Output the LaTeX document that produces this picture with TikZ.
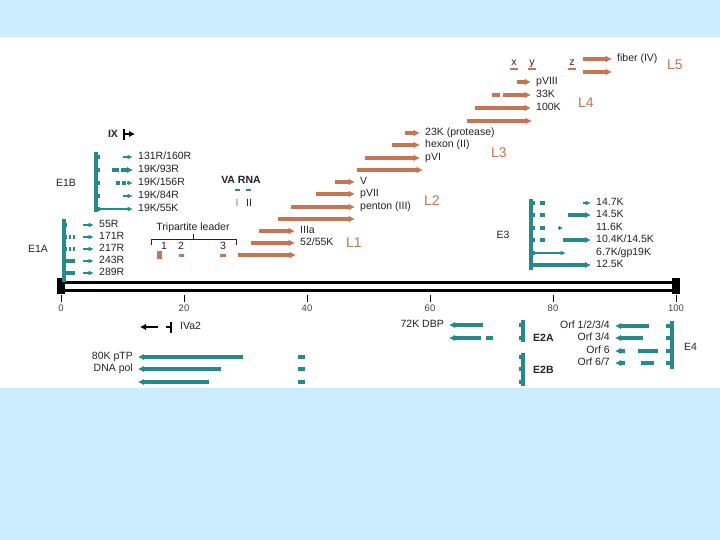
\documentclass[tikz,border=0pt]{standalone}
\usepackage{fontspec}
\setmainfont{Liberation Sans}
\usepackage{xcolor}
\usetikzlibrary{arrows.meta, positioning}
\definecolor{bgblue}{RGB}{204,236,255}
\definecolor{eteal}{RGB}{38,138,138}
\definecolor{lrust}{RGB}{198,116,82}
\definecolor{ltext}{RGB}{35,35,35}

\begin{document}
\begin{tikzpicture}[x=1pt, y=-1pt,
    lbl/.style={anchor=west, inner sep=1pt, text height=7.5pt, text depth=2pt, font=\fontsize{10.5}{11}\selectfont, text=ltext},
    rlbl/.style={lbl, anchor=east},
    grp/.style={inner sep=1pt, font=\fontsize{10.5}{11}\selectfont, text=ltext},
    grpb/.style={grp, font=\fontsize{10.5}{11}\selectfont\bfseries},
    tick/.style={inner sep=1pt, font=\fontsize{9.5}{10}\selectfont, text=ltext!85},
    lname/.style={anchor=west, inner sep=0pt, font=\fontsize{14}{14}\selectfont, text=lrust},
    late/.style={draw=lrust, line width=3.2pt, -{Latex[length=6.5pt,width=7pt]}},
    lseg/.style={draw=lrust, line width=3.2pt},
    early/.style={draw=eteal, line width=3.2pt, -{Latex[length=6pt,width=6.5pt]}},
    earlythin/.style={draw=eteal, line width=1.6pt, -{Latex[length=5.5pt,width=5pt]}},
    seg/.style={draw=eteal, line width=3.2pt},
    tolbl/.style={shorten >=4pt},
    endblk/.style={fill=black, rectangle, minimum size=7.5pt, inner sep=0pt},
    genome/.style={draw=black, line width=3pt},
    ]

    % background and white panel
    \fill[bgblue] (0,0) rectangle (720,540);
    \fill[white] (0,37) rectangle (720,388);

    % genome (both strands)
    \node[endblk] (g1) at (61,282) {};
    \node[endblk] (g2) at (676,282) {};
    \node[endblk] (g3) at (61,290) {};
    \node[endblk] (g4) at (676,290) {};
    \draw[genome] (g1) -- (g2);
    \draw[genome] (g3) -- (g4);

    % map units
    \foreach \v in {0,20,...,100} {
        \draw[black, line width=1pt] ({61+6.15*\v},295) -- ({61+6.15*\v},302);
        \node[tick] (t\v) at ({61+6.15*\v},308) {\v};
    }

    % L5
    \foreach \n/\x/\t in {ux/514/x, uy/532/y, uz/572/z} {
        \node[grp, text height=6pt, text depth=2pt] (\n) at (\x,64) {\t};
        \draw[lrust, line width=1.4pt] (\n.south west) -- (\n.south east);
    }
    \node[lbl] (fib) at (616,59) {fiber (IV)};
    \draw[late, tolbl] (583,59) -- (fib.west);
    \draw[late] (583,72) -- (612,72);
    \node[lname] (l5) at (667,65) {L5};

    % L4
    \node[lbl] (p8) at (535,82) {pVIII};
    \draw[late, tolbl] (517,82) -- (p8.west);
    \node[lbl] (k33) at (535,95) {33K};
    \draw[lseg] (492,95) -- (500,95);
    \draw[late, tolbl] (503,95) -- (k33.west);
    \node[lbl] (k100) at (535,108) {100K};
    \draw[late, tolbl] (475,108) -- (k100.west);
    \draw[late] (467,121) -- (532,121);
    \node[lname] (l4) at (578,103) {L4};

    % L3
    \node[lbl] (prot) at (424,133) {23K (protease)};
    \draw[late, tolbl] (405,133) -- (prot.west);
    \node[lbl] (hex) at (424,145) {hexon (II)};
    \draw[late, tolbl] (392,145) -- (hex.west);
    \node[lbl] (p6) at (424,158) {pVI};
    \draw[late, tolbl] (365,158) -- (p6.west);
    \draw[late] (357,170) -- (423,170);
    \node[lname] (l3) at (491,153) {L3};

    % L2
    \node[lbl] (pv) at (359,182) {V};
    \draw[late, tolbl] (335,182) -- (pv.west);
    \node[lbl] (p7) at (359,194) {pVII};
    \draw[late, tolbl] (316,194) -- (p7.west);
    \node[lbl] (pent) at (359,207) {penton (III)};
    \draw[late, tolbl] (291,207) -- (pent.west);
    \draw[late] (278,219) -- (355,219);
    \node[lname] (l2) at (424,201) {L2};

    % L1
    \node[lbl] (i3a) at (299,231) {IIIa};
    \draw[late, tolbl] (259,231) -- (i3a.west);
    \node[lbl] (k52) at (299,243) {52/55K};
    \draw[late, tolbl] (251,243) -- (k52.west);
    \draw[late] (238,255) -- (296,255);
    \node[lname] (l1) at (346,243) {L1};

    % tripartite leader
    \node[grp] (tpl) at (193,228) {Tripartite leader};
    \draw[ltext, line width=0.9pt] (151,245) -- (151,239) -- (236,239) -- (236,245);
    \draw[ltext, line width=0.9pt] (193,239) -- (tpl.south);
    \node[grp] (n1) at (164,246) {1};
    \node[grp] (n2) at (181,246) {2};
    \node[grp] (n3) at (223,246) {3};
    \fill[lrust] (157,251) rectangle (162,259);
    \fill[lrust] (179,254) rectangle (184,257);
    \fill[lrust] (220,254) rectangle (226,257);

    % VA RNA
    \node[grpb] (va) at (241,180) {VA RNA};
    \draw[eteal, line width=2.4pt] (235,190) -- (240,190);
    \draw[eteal, line width=2.4pt] (246,190) -- (251,190);
    \node[grp, text=gray] (va1) at (237,203) {I};
    \node[grp] (va2) at (249,203) {II};

    % IX
    \node[grpb] (ix) at (113,134) {IX};
    \draw[black, line width=1.8pt] (124,129) -- (124,140);
    \draw[black, line width=1.8pt, -{Latex[length=6pt,width=6.5pt]}] (124,134) -- (135,134);

    % E1B
    \node[grp] (e1b) at (66,183) {E1B};
    \draw[seg] (96,152) -- (96,212);
    \foreach \y in {157,170,183,196,209}
        \draw[seg] (96,\y) -- (100,\y);
    \node[lbl] (b1) at (137,157) {131R/160R};
    \node[lbl] (b2) at (137,170) {19K/93R};
    \node[lbl] (b3) at (137,183) {19K/156R};
    \node[lbl] (b4) at (137,196) {19K/84R};
    \node[lbl] (b5) at (137,209) {19K/55K};
    \draw[earlythin, tolbl] (123,157) -- (b1.west);
    \draw[seg] (112,170) -- (119,170);
    \draw[early, tolbl] (121,170) -- (b2.west);
    \draw[seg] (116,183) -- (120,183) (122,183) -- (126,183);
    \draw[earlythin, tolbl] (127,183) -- (b3.west);
    \draw[earlythin, tolbl] (123,196) -- (b4.west);
    \draw[earlythin, tolbl] (96,209) -- (b5.west);

    % E1A
    \node[grp] (e1a) at (38,249) {E1A};
    \draw[seg] (64,219) -- (64,282);
    \foreach \y in {225,237,249,261,273}
        \draw[seg] (64,\y) -- (67,\y);
    \foreach \y in {237,249}
        \draw[seg] (69,\y) -- (71,\y) (73,\y) -- (75,\y);
    \foreach \y in {261,273}
        \draw[seg] (64,\y) -- (75,\y);
    \node[lbl] (a1) at (98,225) {55R};
    \node[lbl] (a2) at (98,237) {171R};
    \node[lbl] (a3) at (98,249) {217R};
    \node[lbl] (a4) at (98,261) {243R};
    \node[lbl] (a5) at (98,273) {289R};
    \foreach \n in {a1,a2,a3,a4,a5}
        \draw[earlythin, tolbl] (83,0 |- \n.west) -- (\n.west);

    % E3
    \node[grp] (e3) at (503,235) {E3};
    \draw[seg] (531,199) -- (531,270);
    \foreach \y in {203,215,228,240,253,265}
        \draw[seg] (531,\y) -- (535,\y);
    \foreach \y in {203,215,228,240}
        \draw[seg] (540,\y) -- (545,\y);
    \node[lbl] (h1) at (595,203) {14.7K};
    \node[lbl] (h2) at (595,215) {14.5K};
    \node[lbl] (h3) at (595,228) {11.6K};
    \node[lbl] (h4) at (595,240) {10.4K/14.5K};
    \node[lbl] (h5) at (595,253) {6.7K/gp19K};
    \node[lbl] (h6) at (595,265) {12.5K};
    \draw[earlythin, tolbl] (583,203) -- (h1.west);
    \draw[early, tolbl] (568,215) -- (h2.west);
    \draw[earlythin, -{Latex[length=4pt,width=4.5pt]}] (558,228) -- (563,228);
    \draw[early, tolbl] (563,240) -- (h4.west);
    \draw[earlythin] (531,253) -- (566,253);
    \draw[early, tolbl] (531,265) -- (h6.west);

    % IVa2
    \node[lbl] (iva2) at (179,327) {IVa2};
    \draw[black, line width=1.8pt] (171,322) -- (171,333);
    \draw[black, line width=1.8pt] (166,327) -- (171,327);
    \draw[black, line width=1.8pt, -{Latex[length=6pt,width=6.5pt]}] (158,327) -- (140,327);

    % E2B
    \node[rlbl] (ptp) at (134,357) {80K pTP};
    \draw[early, tolbl] (243,357) -- (ptp.east);
    \node[rlbl] (pol) at (134,369) {DNA pol};
    \draw[early, tolbl] (221,369) -- (pol.east);
    \draw[early] (209,382) -- (138,382);
    \foreach \y in {357,369,382}
        \draw[seg] (298,\y) -- (305,\y);
    \draw[seg] (523,353) -- (523,386);
    \foreach \y in {357,369,382}
        \draw[seg] (519,\y) -- (523,\y);
    \node[grpb, anchor=west] (e2b) at (532,370) {E2B};

    % E2A
    \node[rlbl] (dbp) at (445,325) {72K DBP};
    \draw[early, tolbl] (483,325) -- (dbp.east);
    \draw[early] (481,338) -- (449,338);
    \draw[seg] (486,338) -- (493,338);
    \draw[seg] (523,320) -- (523,342);
    \foreach \y in {325,338}
        \draw[seg] (519,\y) -- (523,\y);
    \node[grpb, anchor=west] (e2a) at (532,338) {E2A};

    % E4
    \draw[seg] (672,321) -- (672,369);
    \foreach \y in {326,338,351,363}
        \draw[seg] (666,\y) -- (672,\y);
    \node[rlbl] (o1) at (611,326) {Orf 1/2/3/4};
    \node[rlbl] (o2) at (611,338) {Orf 3/4};
    \node[rlbl] (o3) at (611,351) {Orf 6};
    \node[rlbl] (o4) at (611,363) {Orf 6/7};
    \draw[early, tolbl] (649,326) -- (o1.east);
    \draw[early, tolbl] (643,338) -- (o2.east);
    \draw[early, tolbl] (625,351) -- (o3.east);
    \draw[seg] (638,351) -- (658,351);
    \draw[early, tolbl] (625,363) -- (o4.east);
    \draw[seg] (641,363) -- (654,363);
    \node[grp, anchor=west] (e4) at (683,347) {E4};
\end{tikzpicture}
\end{document}
